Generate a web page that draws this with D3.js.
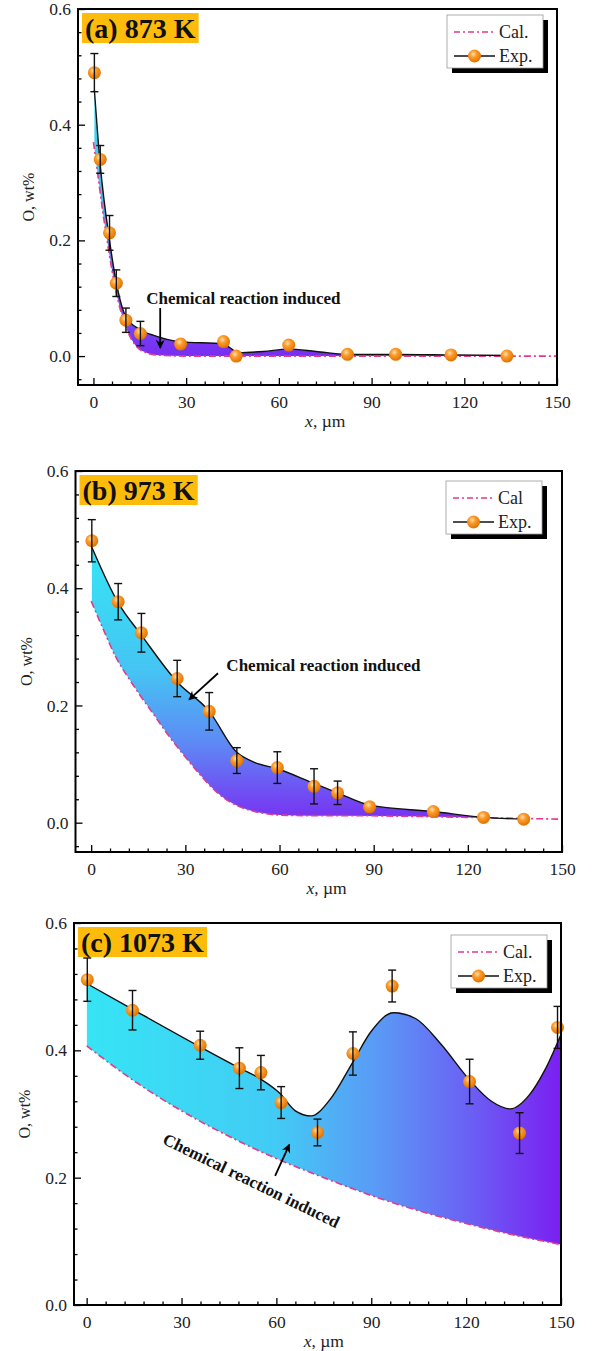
<!DOCTYPE html>
<html>
<head>
<meta charset="utf-8">
<script src="https://cdnjs.cloudflare.com/ajax/libs/d3/7.8.5/d3.min.js"></script>
<style>
body { margin: 0; background: #fff; }
</style>
</head>
<body>
<script>
// ---------- (a) 873 K
var expXA = [0.3, 2.2, 5.2, 7.4, 10.5, 15.2, 28.2, 42.1, 46.2, 63.2, 82.2, 97.8, 115.7, 133.8];
var expYA = [0.49, 0.34, 0.213, 0.126, 0.062, 0.039, 0.021, 0.025, 0.0, 0.019, 0.003, 0.003, 0.002, 0.0];
var errA  = [0.033, 0.024, 0.03, 0.023, 0.021, 0.021, 0, 0, 0, 0, 0, 0, 0, 0];
var fitXA = [0.3, 2.2, 5.2, 7.4, 10.5, 15, 20, 28, 42, 47, 55, 63, 72, 82, 98, 116, 134];
var fitYA = [0.46, 0.33, 0.2, 0.127, 0.068, 0.046, 0.035, 0.025, 0.021, 0.006, 0.008, 0.012, 0.008, 0.003, 0.003, 0.002, 0.001];
var calXA = [0, 1, 2, 3, 4, 5, 6, 7, 8, 10, 12, 14, 17, 20, 30, 150];
var calYA = [0.37, 0.33, 0.29, 0.25, 0.215, 0.18, 0.148, 0.12, 0.095, 0.058, 0.032, 0.016, 0.006, 0.002, 0, 0];

// ---------- (b) 973 K
var expXB = [0.2, 8.6, 16, 27.4, 37.6, 46.4, 59.3, 71, 78.5, 88.7, 109, 125, 137.8];
var expYB = [0.481, 0.377, 0.324, 0.246, 0.19, 0.106, 0.094, 0.062, 0.051, 0.027, 0.019, 0.009, 0.006];
var errB  = [0.036, 0.031, 0.033, 0.031, 0.032, 0.022, 0.027, 0.03, 0.02, 0, 0, 0, 0];
var fitXB = [0.2, 8.6, 16, 27.4, 37.6, 46.4, 52, 59.3, 71, 78.5, 88.7, 109, 125, 138];
var fitYB = [0.47, 0.375, 0.32, 0.24, 0.19, 0.12, 0.103, 0.092, 0.067, 0.051, 0.03, 0.019, 0.009, 0.006];
var calXB = [0, 4, 8, 12, 16, 20, 25, 30, 35, 40, 45, 50, 55, 60, 70, 80, 100, 120, 150];
var calYB = [0.378, 0.328, 0.281, 0.246, 0.214, 0.184, 0.146, 0.112, 0.08, 0.052, 0.033, 0.022, 0.016, 0.013, 0.012, 0.012, 0.011, 0.009, 0.006];

// ---------- (c) 1073 K
var expXC = [0.2, 14.5, 35.9, 48.3, 55.1, 61.5, 73, 84.2, 96.6, 121.1, 136.9, 148.9];
var expYC = [0.511, 0.463, 0.408, 0.372, 0.365, 0.318, 0.271, 0.395, 0.501, 0.351, 0.27, 0.436];
var errC  = [0.034, 0.031, 0.022, 0.032, 0.027, 0.025, 0.021, 0.034, 0.025, 0.035, 0.032, 0.033];
var fitXC = [0, 15, 36, 48, 55, 61, 66, 71, 77, 84, 90, 97, 104, 112, 121, 128, 134, 140, 145, 150];
var fitYC = [0.505, 0.463, 0.405, 0.373, 0.355, 0.333, 0.305, 0.297, 0.323, 0.38, 0.43, 0.459, 0.45, 0.41, 0.354, 0.32, 0.308, 0.33, 0.37, 0.425];
var calXC = [0, 15, 30, 45, 60, 75, 90, 105, 120, 135, 150];
var calYC = [0.407, 0.352, 0.305, 0.265, 0.23, 0.2, 0.172, 0.148, 0.128, 0.11, 0.095];

var xTicks = [0, 30, 60, 90, 120, 150];
var yTicks = [0, 0.2, 0.4, 0.6];
var noteText = "Chemical reaction induced";

var panels = [
  {id: "a", title: "(a) 873 K", cal: "Cal.", left: 78, right: 557, top: 9, bottom: 385, xmin: -5, ymin: -0.05,
   expX: expXA, expY: expYA, err: errA, fitX: fitXA, fitY: fitYA, calX: calXA, calY: calYA,
   horiz: false, gTop: 0.47, stops: [[0, "#36e6f4"], [0.45, "#4cb6f3"], [0.75, "#6a62f3"], [1, "#7a2cf2"]],
   legend: [447, 15], note: {x: 48.5, y: 0.1, rot: 0}, arrow: [[21.6, 0.083], [21.6, 0.014]]},
  {id: "b", title: "(b) 973 K", cal: "Cal", left: 75.5, right: 562, top: 471, bottom: 852, xmin: -5, ymin: -0.05,
   expX: expXB, expY: expYB, err: errB, fitX: fitXB, fitY: fitYB, calX: calXB, calY: calYB,
   horiz: false, gTop: 0.47, stops: [[0, "#35e6f5"], [0.45, "#45c4f3"], [0.7, "#5d8cf5"], [1, "#7a2cf2"]],
   legend: [446, 481], note: {x: 74, y: 0.268, rot: 0}, arrow: [[40.4, 0.255], [31.2, 0.21]]},
  {id: "c", title: "(c) 1073 K", cal: "Cal.", left: 74, right: 561, top: 923, bottom: 1305, xmin: -4, ymin: 0,
   expX: expXC, expY: expYC, err: errC, fitX: fitXC, fitY: fitYC, calX: calXC, calY: calYC,
   horiz: true, stops: [[0, "#36e4f4"], [0.4, "#42cbf5"], [0.62, "#5b98f6"], [0.82, "#6b5cf4"], [1, "#7b1ff1"]],
   legend: [451, 935], note: {x: 52, y: 0.195, rot: 26}, arrow: [[59.6, 0.203], [64.1, 0.252]]}
];

var svg = d3.select("body").append("svg")
    .attr("width", 592)
    .attr("height", 1351)
    .style("font-family", "'Liberation Serif', 'Times New Roman', serif");

var defs = svg.append("defs");

var ball = defs.append("radialGradient").attr("id", "ball")
    .attr("cx", "40%").attr("cy", "35%").attr("r", "65%");
ball.append("stop").attr("offset", "0%").attr("stop-color", "#ffe0ad");
ball.append("stop").attr("offset", "40%").attr("stop-color", "#fb9b2b");
ball.append("stop").attr("offset", "100%").attr("stop-color", "#e07300");

defs.append("marker").attr("id", "arrow")
    .attr("viewBox", "0 0 10 10").attr("refX", 9).attr("refY", 5)
    .attr("markerUnits", "userSpaceOnUse")
    .attr("markerWidth", 11).attr("markerHeight", 9)
    .attr("orient", "auto")
  .append("path").attr("d", "M0,0 L10,5 L0,10 L3,5 z").attr("fill", "#000");

function zip(xs, ys) {
  return xs.map(function(v, i) { return {x: v, y: ys[i]}; });
}

function drawPanel(p) {
  var x = d3.scaleLinear().domain([p.xmin, 150]).range([p.left, p.right]);
  var y = d3.scaleLinear().domain([p.ymin, 0.6]).range([p.bottom, p.top]);
  var g = svg.append("g");

  var exp = zip(p.expX, p.expY).map(function(d, i) { d.e = p.err[i]; return d; }),
      fit = zip(p.fitX, p.fitY),
      cal = zip(p.calX, p.calY);

  // gradient fill between the calculated curve and the experimental curve
  var grad = defs.append("linearGradient").attr("id", "fill-" + p.id)
      .attr("gradientUnits", "userSpaceOnUse");
  if (p.horiz) grad.attr("x1", x(0)).attr("x2", x(150)).attr("y1", 0).attr("y2", 0);
  else grad.attr("x1", 0).attr("x2", 0).attr("y1", y(p.gTop)).attr("y2", y(0));
  p.stops.forEach(function(s) {
    grad.append("stop").attr("offset", s[0]).attr("stop-color", s[1]);
  });

  defs.append("clipPath").attr("id", "clip-" + p.id).append("path")
      .attr("d", d3.area().x(d => x(d.x)).y0(p.top).y1(d => y(d.y)).curve(d3.curveMonotoneX)(cal));

  g.append("path")
      .attr("clip-path", "url(#clip-" + p.id + ")")
      .attr("d", d3.area().x(d => x(d.x)).y0(p.bottom).y1(d => y(d.y)).curve(d3.curveMonotoneX)(fit))
      .attr("fill", "url(#fill-" + p.id + ")");

  g.append("path")
      .attr("d", d3.line().x(d => x(d.x)).y(d => y(d.y)).curve(d3.curveMonotoneX)(cal))
      .attr("fill", "none").attr("stroke", "#e23a8c").attr("stroke-width", 1.6)
      .attr("stroke-dasharray", "7,3,2,3");

  g.append("path")
      .attr("d", d3.line().x(d => x(d.x)).y(d => y(d.y)).curve(d3.curveMonotoneX)(fit))
      .attr("fill", "none").attr("stroke", "#111").attr("stroke-width", 1.4);

  g.selectAll("circle.pt").data(exp).enter().append("circle")
      .attr("class", "pt")
      .attr("cx", d => x(d.x)).attr("cy", d => y(d.y)).attr("r", 6.5)
      .attr("fill", "url(#ball)");

  var bars = g.selectAll("g.bar").data(exp.filter(d => d.e > 0)).enter().append("g")
      .attr("stroke", "#111").attr("stroke-width", 1.4);
  bars.append("line").attr("x1", d => x(d.x)).attr("x2", d => x(d.x))
      .attr("y1", d => y(d.y + d.e)).attr("y2", d => y(d.y - d.e));
  bars.append("line").attr("x1", d => x(d.x) - 4).attr("x2", d => x(d.x) + 4)
      .attr("y1", d => y(d.y + d.e)).attr("y2", d => y(d.y + d.e));
  bars.append("line").attr("x1", d => x(d.x) - 4).attr("x2", d => x(d.x) + 4)
      .attr("y1", d => y(d.y - d.e)).attr("y2", d => y(d.y - d.e));

  // axes, ticks pointing inward
  var xMinor = d3.range(0, 151, 6).filter(v => xTicks.indexOf(v) < 0);
  var yMinor = d3.range(p.ymin < 0 ? -0.04 : 0.04, 0.59, 0.04).filter(v => Math.abs(v * 5 - Math.round(v * 5)) > 0.01);

  g.append("g").attr("class", "ax").attr("transform", "translate(0," + p.bottom + ")")
      .call(d3.axisBottom(x).tickValues(xTicks).tickSize(-7).tickPadding(11));
  g.append("g").attr("class", "ax").attr("transform", "translate(0," + p.bottom + ")")
      .call(d3.axisBottom(x).tickValues(xMinor).tickSize(-3.5).tickFormat(""));
  g.append("g").attr("class", "ax").attr("transform", "translate(" + p.left + ",0)")
      .call(d3.axisLeft(y).tickValues(yTicks).tickSize(-7).tickPadding(7).tickFormat(d3.format(".1f")));
  g.append("g").attr("class", "ax").attr("transform", "translate(" + p.left + ",0)")
      .call(d3.axisLeft(y).tickValues(yMinor).tickSize(-3.5).tickFormat(""));

  g.selectAll(".ax .domain").remove();
  g.selectAll(".ax line").attr("stroke", "#000").attr("stroke-width", 1.3);
  g.selectAll(".ax text").attr("font-size", 17.5).attr("fill", "#222")
      .attr("font-family", "'Liberation Serif', serif");

  g.append("rect")
      .attr("x", p.left).attr("y", p.top)
      .attr("width", p.right - p.left).attr("height", p.bottom - p.top)
      .attr("fill", "none").attr("stroke", "#000").attr("stroke-width", 2);

  // axis titles
  g.append("text")
      .attr("transform", "translate(" + (p.left - 44) + "," + ((p.top + p.bottom) / 2) + ") rotate(-90)")
      .attr("text-anchor", "middle").attr("font-size", 16).attr("fill", "#222")
      .text("O, wt%");
  var xl = g.append("text")
      .attr("x", x(75)).attr("y", p.bottom + 42)
      .attr("text-anchor", "middle").attr("font-size", 17.5).attr("fill", "#222");
  xl.append("tspan").attr("font-style", "italic").text("x");
  xl.append("tspan").text(", \u00b5m");

  // panel title on an orange label
  var tb = g.append("g");
  var tt = tb.append("text")
      .attr("x", p.left + 7).attr("y", p.top + 29)
      .attr("font-size", 28).attr("font-weight", "bold").attr("fill", "#111")
      .text(p.title);
  var bb = tt.node().getBBox();
  tb.insert("rect", "text")
      .attr("x", bb.x - 3).attr("y", p.top + 4)
      .attr("width", bb.width + 6).attr("height", 30)
      .attr("fill", "#fdbb0c");

  // legend
  var lg = g.append("g").attr("transform", "translate(" + p.legend[0] + "," + p.legend[1] + ")");
  lg.append("rect").attr("x", 5).attr("y", 5).attr("width", 96).attr("height", 53).attr("fill", "#000");
  lg.append("rect").attr("width", 96).attr("height", 53)
      .attr("fill", "#fff").attr("stroke", "#999").attr("stroke-width", 0.8);
  lg.append("line").attr("x1", 7).attr("x2", 48).attr("y1", 17).attr("y2", 17)
      .attr("stroke", "#e23a8c").attr("stroke-width", 1.6).attr("stroke-dasharray", "6,3,2,3");
  lg.append("text").attr("x", 52).attr("y", 23).attr("font-size", 18).attr("fill", "#222").text(p.cal);
  lg.append("line").attr("x1", 7).attr("x2", 48).attr("y1", 41).attr("y2", 41)
      .attr("stroke", "#111").attr("stroke-width", 1.5);
  lg.append("circle").attr("cx", 27.5).attr("cy", 41).attr("r", 6.5).attr("fill", "url(#ball)");
  lg.append("text").attr("x", 52).attr("y", 47).attr("font-size", 18).attr("fill", "#222").text("Exp.");

  // annotation
  g.append("text")
      .attr("transform", "translate(" + x(p.note.x) + "," + y(p.note.y) + ") rotate(" + p.note.rot + ")")
      .attr("text-anchor", "middle").attr("dominant-baseline", "central")
      .attr("font-size", 17).attr("font-weight", "bold").attr("fill", "#111")
      .text(noteText);
  g.append("line")
      .attr("x1", x(p.arrow[0][0])).attr("y1", y(p.arrow[0][1]))
      .attr("x2", x(p.arrow[1][0])).attr("y2", y(p.arrow[1][1]))
      .attr("stroke", "#000").attr("stroke-width", 1.8)
      .attr("marker-end", "url(#arrow)");
}

panels.forEach(drawPanel);
</script>
</body>
</html>
